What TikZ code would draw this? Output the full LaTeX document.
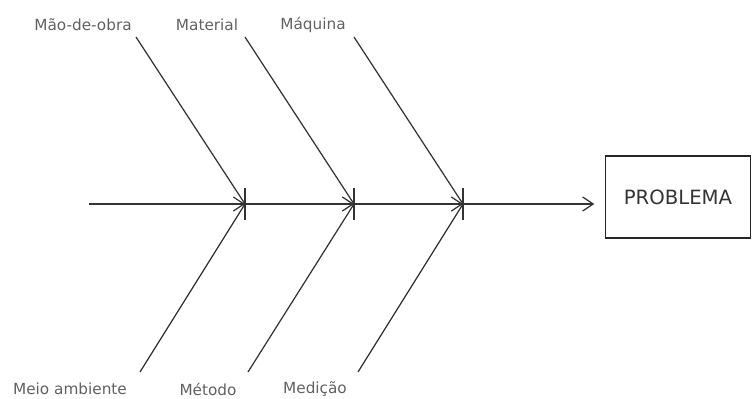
\documentclass[tikz,border=0pt]{standalone}
\usepackage{fontspec}
\setmainfont{DejaVu Sans}
\usetikzlibrary{arrows.meta,positioning,calc}

\tikzset{
  bone/.style={line width=0.7pt, draw=black!80},
  spine/.style={line width=0.7pt, draw=black!80, -{Straight Barb[length=6pt,width=8pt]}},
  tickbar/.style={line width=0.7pt, draw=black!80},
  cause/.style={font=\fontsize{8.7}{10}\selectfont, text=black!62},
}

\begin{document}
\begin{tikzpicture}[x=0.02cm, y=-0.02cm]
  \useasboundingbox (0,0) rectangle (752,399);

  % === Spine ===
  \coordinate (tail) at (89,204);
  \coordinate (j1) at (245,204);
  \coordinate (j2) at (354,204);
  \coordinate (j3) at (463,204);
  \node[draw=black!85, line width=0.8pt, minimum width=2.9cm, minimum height=1.64cm,
        font=\fontsize{11.2}{13}\selectfont, text=black!80] (problem) at (678,197) {PROBLEMA};

  \draw[spine] (tail) -- (j1);
  \draw[spine] (j1) -- (j2);
  \draw[spine] (j2) -- (j3);
  \draw[spine, shorten >=6pt] (j3) -- (j3 -| problem.west);

  % Bars at the junctions
  \foreach \j in {j1,j2,j3} {
    \draw[tickbar] ($(\j)+(0,-16)$) -- ($(\j)+(0,16)$);
  }

  % === Upper causes ===
  \node[cause] (labor) at (83,25) {Mão-de-obra};
  \node[cause] (material) at (207,25) {Material};
  \node[cause] (machine) at (313,25) {Máquina};
  \coordinate (t1) at (136,37);
  \coordinate (t2) at (245,37);
  \coordinate (t3) at (354,37);
  \draw[bone] (t1) -- (j1);
  \draw[bone] (t2) -- (j2);
  \draw[bone] (t3) -- (j3);

  % === Lower causes ===
  \node[cause] (environment) at (70,389) {Meio ambiente};
  \node[cause] (method) at (208,389) {Método};
  \node[cause] (measure) at (315,389) {Medição};
  \coordinate (b1) at (140,372);
  \coordinate (b2) at (248,372);
  \coordinate (b3) at (358,372);
  \draw[bone] (b1) -- (j1);
  \draw[bone] (b2) -- (j2);
  \draw[bone] (b3) -- (j3);

\end{tikzpicture}
\end{document}
